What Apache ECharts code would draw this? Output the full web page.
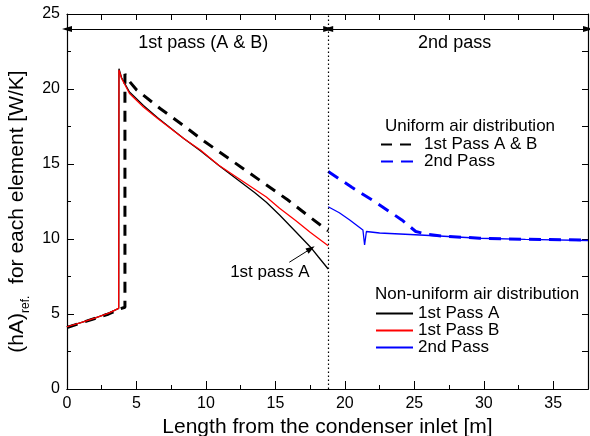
<!DOCTYPE html>
<html>
<head>
<meta charset="utf-8">
<script src="https://cdn.jsdelivr.net/npm/echarts@6/dist/echarts.min.js"></script>
<style>
  html, body { margin: 0; padding: 0; background: #fff; }
  #chart { width: 590px; height: 436px; }
</style>
</head>
<body>
<div id="chart"></div>
<script>
// values: length [m] and (hA)ref [W/K]
const uniAB_x = [0, 1, 2, 3, 3.7, 4.17, 4.17, 4.5, 5.0, 6.7, 8.4, 9.9, 12.9, 15.9, 17.5, 18.8];
const uniAB_y = [4.1, 4.4, 4.7, 5.0, 5.3, 5.45, 21.0, 20.5, 19.95, 18.7, 17.55, 16.5, 14.55, 12.6, 11.45, 10.55];

const uni2_x = [18.8, 20.5, 22.3, 24.1, 25.1, 26.0, 27.0, 29.7, 33.0, 37.5];
const uni2_y = [14.5, 13.45, 12.4, 11.27, 10.5, 10.3, 10.2, 10.05, 9.98, 9.93];

const nonA_x = [0, 1, 2, 3, 3.72, 3.74, 3.93, 4.5, 5.5, 6.5, 8.4, 9.6, 11.0, 12.5, 13.5, 14.35, 15.3, 16.5, 17.6, 18.1, 18.8];
const nonA_y = [4.15, 4.43, 4.73, 5.06, 5.38, 21.35, 20.75, 19.8, 18.9, 18.1, 16.7, 15.88, 14.85, 13.8, 13.1, 12.45, 11.6, 10.45, 9.38, 8.8, 8.0];

const nonB_x = [0, 1, 2, 3, 3.72, 3.74, 3.93, 4.5, 5.5, 6.5, 8.4, 9.6, 10.9, 12.7, 14.35, 15.3, 16.5, 17.5, 18.8];
const nonB_y = [4.15, 4.43, 4.73, 5.06, 5.38, 21.27, 20.7, 19.7, 18.8, 18.05, 16.7, 15.93, 14.93, 13.82, 12.8, 12.05, 11.2, 10.45, 9.55];

const non2_x = [18.8, 19.6, 20.35, 21.3, 21.42, 21.55, 22.5, 24.7, 26.8, 29.7, 33.0, 37.5];
const non2_y = [12.15, 11.75, 11.27, 10.6, 9.6, 10.5, 10.4, 10.3, 10.2, 10.05, 9.97, 9.9];

const passSplit = 18.8;   // end of 1st pass
const xMax = 37.5;

const FONT = "'Liberation Sans', Arial, sans-serif";

function pairs(xs, ys) {
    return xs.map(function(x, i) { return [x, ys[i]]; });
}

const chart = echarts.init(document.getElementById('chart'));

const axisLine = { show: true, onZero: false, lineStyle: { color: '#000', width: 1.2 } };
// hide the circle ECharts puts on line legend icons
const noSymbol = { color: 'transparent', borderColor: 'transparent', borderWidth: 0, opacity: 0 };

const option = {
    backgroundColor: '#fff',
    animation: false,
    grid: { left: 67, right: 2, top: 14, bottom: 47, outerBoundsMode: 'none' },
    xAxis: [
        {   // bottom: minor ticks + labels
            type: 'value', position: 'bottom', min: 0, max: xMax, interval: 2.5,
            axisLine: axisLine,
            axisTick: { inside: true, length: 4, lineStyle: { color: '#000' } },
            axisLabel: {
                color: '#000', fontSize: 16, fontFamily: FONT, margin: 7,
                formatter: function(v) { return v % 5 === 0 ? String(v) : ''; }
            },
            splitLine: { show: false },
            name: 'Length from the condenser inlet [m]',
            nameLocation: 'middle', nameGap: 24,
            nameTextStyle: { color: '#000', fontSize: 21, fontFamily: FONT }
        },
        {   // bottom: major ticks
            type: 'value', position: 'bottom', min: 0, max: xMax, interval: 5,
            axisLine: axisLine,
            axisTick: { inside: true, length: 8, lineStyle: { color: '#000' } },
            axisLabel: { show: false },
            splitLine: { show: false }
        },
        {   // top frame
            type: 'value', position: 'top', min: 0, max: xMax, interval: 2.5,
            axisLine: axisLine,
            axisTick: { inside: true, length: 6, lineStyle: { color: '#000' } },
            axisLabel: { show: false },
            splitLine: { show: false }
        }
    ],
    yAxis: [
        {
            type: 'value', position: 'left', min: 0, max: 25, interval: 5,
            axisLine: axisLine,
            axisTick: { inside: true, length: 7, lineStyle: { color: '#000' } },
            minorTick: { show: true, splitNumber: 2, length: 4, lineStyle: { color: '#000' } },
            axisLabel: { color: '#000', fontSize: 16, fontFamily: FONT, margin: 7 },
            splitLine: { show: false },
            name: '(hA){sub|ref.}  for each element [W/K]',
            nameLocation: 'middle', nameGap: 31,
            nameTextStyle: {
                color: '#000', fontSize: 21, fontFamily: FONT, lineHeight: 28,
                padding: [0, 20, 0, 0],
                rich: { sub: { fontSize: 12, fontFamily: FONT, color: '#000', lineHeight: 12, verticalAlign: 'bottom' } }
            }
        },
        {
            type: 'value', position: 'right', min: 0, max: 25, interval: 2.5,
            axisLine: axisLine,
            axisTick: { inside: true, length: 6, lineStyle: { color: '#000' } },
            axisLabel: { show: false },
            splitLine: { show: false }
        }
    ],
    legend: [
        {
            data: ['1st Pass A & B', '2nd Pass (uniform)'],
            orient: 'vertical', left: 380, top: 136, padding: 0,
            itemWidth: 38, itemHeight: 20, itemGap: 0,
            selectedMode: false,
            itemStyle: noSymbol,
            formatter: function(name) { return name.replace(' (uniform)', ''); },
            textStyle: { color: '#000', fontSize: 17, fontFamily: FONT }
        },
        {
            data: ['1st Pass A', '1st Pass B', '2nd Pass'],
            orient: 'vertical', left: 375, top: 305, padding: 0,
            itemWidth: 37, itemHeight: 20, itemGap: 0,
            selectedMode: false,
            itemStyle: noSymbol,
            textStyle: { color: '#000', fontSize: 17, fontFamily: FONT }
        }
    ],
    graphic: [
        { type: 'text', left: 385, top: 118, style: { text: 'Uniform air distribution', fill: '#000', font: '17px ' + FONT } },
        { type: 'text', left: 375, top: 286, style: { text: 'Non-uniform air distribution', fill: '#000', font: '17px ' + FONT } }
    ],
    series: [
        {
            name: '1st Pass A & B', type: 'line', showSymbol: false, symbol: 'none',
            data: pairs(uniAB_x, uniAB_y),
            lineStyle: { color: '#000', width: 3, type: [11, 8] },
            itemStyle: { color: '#000' },
            z: 2,
            markLine: {
                silent: true, animation: false,
                label: { show: false },
                data: [
                    [
                        { coord: [passSplit, 0], symbol: 'none', lineStyle: { color: '#000', width: 1.2, type: [1.5, 2.5] } },
                        { coord: [passSplit, 25], symbol: 'none' }
                    ],
                    [
                        { coord: [0, 24], symbol: 'triangle', symbolSize: [6, 10], lineStyle: { color: '#000', width: 1, type: 'solid' } },
                        { coord: [passSplit, 24], symbol: 'triangle', symbolSize: [6, 10] }
                    ],
                    [
                        { coord: [passSplit, 24], symbol: 'triangle', symbolSize: [6, 10], lineStyle: { color: '#000', width: 1, type: 'solid' } },
                        { coord: [xMax, 24], symbol: 'triangle', symbolSize: [6, 10] }
                    ],
                    [
                        { coord: [16.0, 8.45], symbol: 'none', lineStyle: { color: '#000', width: 1, type: 'solid' } },
                        { coord: [17.55, 9.35], symbol: 'triangle', symbolSize: [6, 9] }
                    ]
                ],
                itemStyle: { color: '#000' }
            },
            markPoint: {
                silent: true, symbolSize: 0, animation: false,
                label: { show: true, position: 'inside', color: '#000', fontFamily: FONT, formatter: '{b}' },
                data: [
                    { name: '1st pass (A & B)', coord: [9.8, 23.07], label: { fontSize: 18 } },
                    { name: '2nd pass', coord: [27.9, 23.07], label: { fontSize: 18 } },
                    { name: '1st pass A', coord: [14.6, 7.8], label: { fontSize: 17 } }
                ]
            }
        },
        {
            name: '2nd Pass (uniform)', type: 'line', showSymbol: false, symbol: 'none',
            data: pairs(uni2_x, uni2_y),
            lineStyle: { color: '#0000ff', width: 3, type: [12, 8] },
            itemStyle: { color: '#0000ff' },
            z: 2
        },
        {
            name: '1st Pass A', type: 'line', showSymbol: false, symbol: 'none',
            data: pairs(nonA_x, nonA_y),
            lineStyle: { color: '#000', width: 1.3 },
            itemStyle: { color: '#000' },
            z: 3
        },
        {
            name: '1st Pass B', type: 'line', showSymbol: false, symbol: 'none',
            data: pairs(nonB_x, nonB_y),
            lineStyle: { color: '#ff0000', width: 1.3 },
            itemStyle: { color: '#ff0000' },
            z: 4
        },
        {
            name: '2nd Pass', type: 'line', showSymbol: false, symbol: 'none',
            data: pairs(non2_x, non2_y),
            lineStyle: { color: '#0000ff', width: 1.3 },
            itemStyle: { color: '#0000ff' },
            z: 4
        }
    ]
};

chart.setOption(option);
</script>
</body>
</html>
